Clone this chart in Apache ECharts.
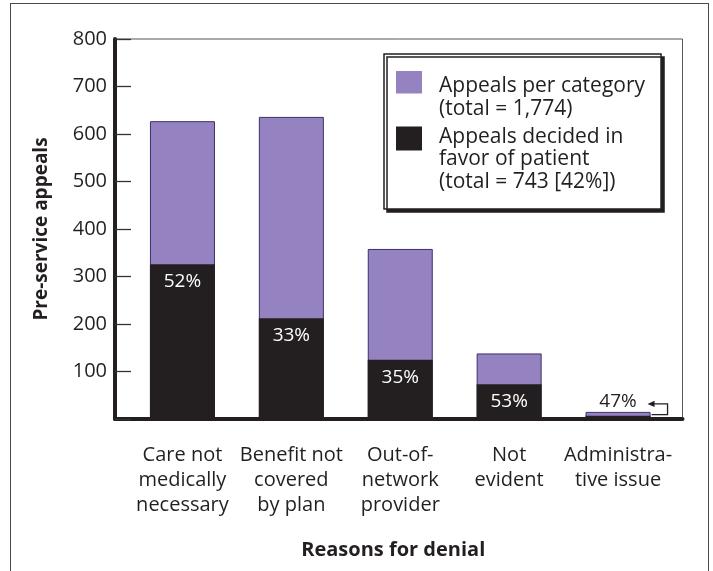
<!DOCTYPE html>
<html><head><meta charset="utf-8">
<script src="https://cdn.jsdelivr.net/npm/echarts@6/dist/echarts.min.js"></script>
<style>
html,body{margin:0;padding:0;background:#fff}
#wrap{position:relative;width:713px;height:571px;overflow:hidden}
#chart{width:713px;height:571px}
#frame{position:absolute;left:10px;top:3px;width:699px;height:640px;box-sizing:border-box;border:1.5px solid #4a4a4a;pointer-events:none}
</style></head><body>
<div id="wrap"><div id="chart"></div><div id="frame"></div></div>
<script>
// ---- data ----
const categories = ['Care not\nmedically\nnecessary', 'Benefit not\ncovered\nby plan', 'Out-of-\nnetwork\nprovider', 'Not\nevident', 'Administra-\ntive issue'];
const appealsTotal = [627, 636, 358, 138, 15];
const appealsWon = [326, 212, 125, 73, 7];
const seriesNames = ['Appeals per category\n(total = 1,774)', 'Appeals decided in\nfavor of patient\n(total = 743 [42%])'];
const yMin = 0, yMax = 800, yStep = 100;
const xTitle = 'Reasons for denial';
const yTitle = 'Pre-service appeals';

const INK = '#231f20';
const PURPLE = '#9583c1';
const FONT = 'Open Sans';
const pct = i => Math.round(appealsWon[i] / appealsTotal[i] * 100) + '%';
const smallIdx = appealsTotal.length - 1;

const chart = echarts.init(document.getElementById('chart'), null, {renderer: 'canvas'});
const gridTop = 39, gridHeight = 380;

chart.setOption({
  animation: false,
  textStyle: {fontFamily: FONT},
  grid: [
    {left: 128, top: gridTop, width: 544.5, height: gridHeight},
    {left: 115, top: gridTop, width: 567.5, height: gridHeight, show: true, borderColor: '#555', borderWidth: 1, backgroundColor: 'transparent'}
  ],
  legend: {
    orient: 'vertical', left: 384, top: 54,
    padding: [10, 16, 16, 12],
    itemWidth: 38, itemHeight: 67, itemGap: -5,
    selectedMode: false,
    backgroundColor: '#fff', borderColor: INK, borderWidth: 1.5,
    shadowColor: INK, shadowOffsetX: 3, shadowOffsetY: 3, shadowBlur: 0,
    itemStyle: {borderWidth: 0},
    textStyle: {color: INK, fontSize: 21, lineHeight: 22.3, fontFamily: FONT},
    data: [
      {name: seriesNames[0], icon: 'path://M0,0L0.01,0M38,67L37.99,67M0,7H26V29.5H0Z'},
      {name: seriesNames[1], icon: 'path://M0,0L0.01,0M38,67L37.99,67M0,0.5H26V24.5H0Z'}
    ]
  },
  xAxis: [
    {type: 'category', gridIndex: 0, data: categories,
     axisLine: {show: false}, axisTick: {show: false},
     axisLabel: {interval: 0, margin: 24, fontSize: 20, lineHeight: 25, color: INK, fontFamily: FONT},
     name: xTitle, nameLocation: 'middle', nameGap: 120,
     nameTextStyle: {fontSize: 20, fontWeight: 'bold', color: INK, fontFamily: FONT, lineHeight: 22, padding: [0, 14, 0, 0]}},
    {type: 'value', gridIndex: 1, min: 0, max: 1,
     axisLine: {show: true, lineStyle: {color: INK, width: 4}},
     axisTick: {show: false}, axisLabel: {show: false}, splitLine: {show: false}}
  ],
  yAxis: [
    {type: 'value', gridIndex: 0, min: yMin, max: yMax, interval: yStep, show: false, splitLine: {show: false}},
    {type: 'value', gridIndex: 1, min: yMin, max: yMax, interval: yStep,
     axisLine: {show: true, lineStyle: {color: INK, width: 4}},
     axisTick: {show: true, inside: false, length: -16, lineStyle: {color: '#333', width: 1.3}},
     axisLabel: {margin: 8, fontSize: 20, color: INK, fontFamily: FONT, formatter: v => v === 0 ? '' : String(v)},
     splitLine: {show: false},
     name: yTitle, nameLocation: 'middle', nameGap: 64,
     nameTextStyle: {fontSize: 19, fontWeight: 'bold', color: INK, fontFamily: FONT}}
  ],
  series: [
    {name: seriesNames[0], type: 'bar', xAxisIndex: 0, yAxisIndex: 0,
     barWidth: 65, barGap: '-100%',
     itemStyle: {color: PURPLE, borderColor: '#3b2f6e', borderWidth: 1},
     data: appealsTotal},
    {name: seriesNames[1], type: 'bar', xAxisIndex: 0, yAxisIndex: 0,
     barWidth: 65, barGap: '-100%',
     itemStyle: {color: INK},
     label: {show: true, position: 'insideTop', distance: 8, color: '#fff', fontSize: 19, fontFamily: FONT,
             formatter: p => pct(p.dataIndex)},
     data: appealsWon.map((v, i) => i === smallIdx
       ? {value: v, label: {position: 'top', distance: 5, color: INK}}
       : v)},
    {type: 'custom', xAxisIndex: 0, yAxisIndex: 0, silent: true, z: 5,
     data: [[smallIdx, appealsTotal[smallIdx], appealsWon[smallIdx]]],
     renderItem: (params, api) => {
       const pTop = api.coord([api.value(0), api.value(1)]);
       const pMid = api.coord([api.value(0), api.value(2)]);
       const right = pTop[0] + 32.5;
       const yLow = pMid[1] - 1;
       const yHigh = pTop[1] - 8;
       const xOut = right + 17;
       const tip = right - 3;
       return {type: 'group', children: [
         {type: 'polyline', shape: {points: [[right + 1, yLow], [xOut, yLow], [xOut, yHigh], [tip + 5, yHigh]]},
          style: {stroke: INK, lineWidth: 1.3, fill: null}},
         {type: 'polygon', shape: {points: [[tip, yHigh], [tip + 7, yHigh - 3.2], [tip + 7, yHigh + 3.2]]},
          style: {fill: INK}}
       ]};
     }}
  ]
});
</script>
</body></html>
